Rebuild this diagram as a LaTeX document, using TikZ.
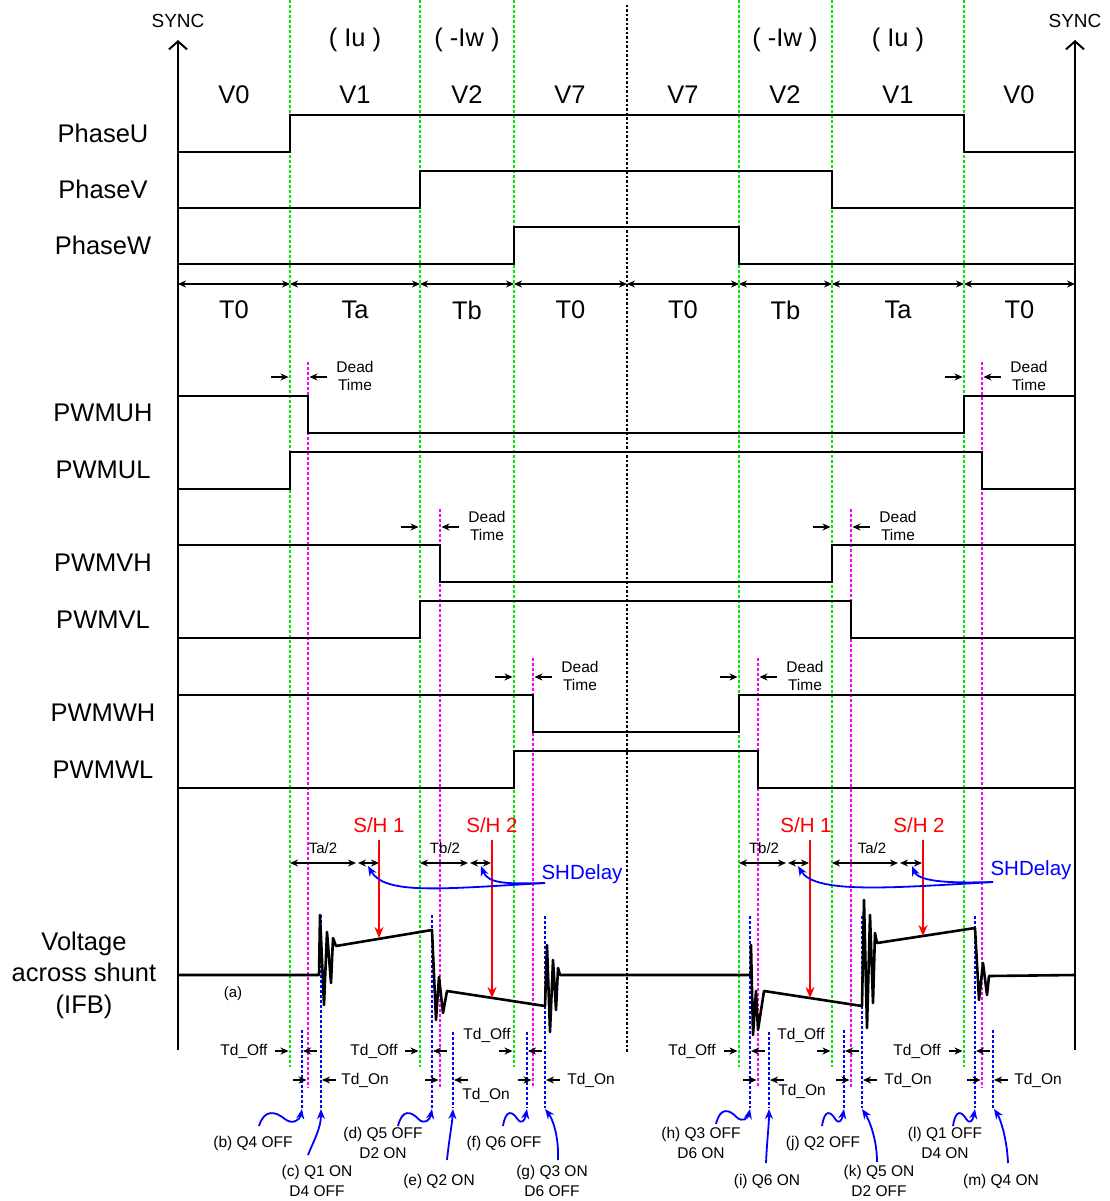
\documentclass[tikz,border=0pt]{standalone}
\usepackage{fontspec}
\setmainfont{Liberation Sans}
\usetikzlibrary{arrows.meta}
\definecolor{grn}{RGB}{0,235,0}
\definecolor{mag}{RGB}{255,0,255}
\definecolor{blu}{RGB}{0,0,255}
\definecolor{rd}{RGB}{255,0,0}
\newcommand{\wavyarr}[3]{%
  \draw[barr] (#1,#2) .. controls ({#1+0.12*(#3-#1)},{#2-17}) and ({#1+0.38*(#3-#1)},{#2-15}) .. ({#1+0.6*(#3-#1)},{#2-7}) .. controls ({#1+0.78*(#3-#1)},{#2-1}) and ({#3-2},{#2-6}) .. (#3,1109);}
\begin{document}
\begin{tikzpicture}[x=1pt,y=-1pt,
  wave/.style={line width=1.5pt},
  shunt/.style={line width=2.6pt, line join=round},
  axis/.style={line width=2pt, -{Straight Barb[length=8pt,width=18pt]}},
  gline/.style={grn, line width=1.3pt, dash pattern=on 3pt off 2pt},
  mline/.style={mag, line width=1.3pt, dash pattern=on 3pt off 2pt},
  bline/.style={blu, line width=1.5pt, dash pattern=on 3pt off 2pt},
  kline/.style={black, line width=1.3pt, dash pattern=on 2.5pt off 2pt},
  tarr/.style={line width=1.3pt, -{Stealth[length=8pt,width=7pt]}},
  dbl/.style={line width=1.3pt, {Stealth[length=8pt,width=7pt]}-{Stealth[length=8pt,width=7pt]}},
  rarr/.style={rd, line width=2pt, -{Stealth[length=11pt,width=9pt]}},
  barr/.style={blu, line width=1.8pt, -{Stealth[length=10pt,width=8pt]}},
  big/.style={font=\fontsize{25.5}{30}\selectfont, inner sep=0pt},
  syncf/.style={font=\fontsize{19}{22}\selectfont, inner sep=0pt},
  shf/.style={font=\fontsize{20.5}{24}\selectfont, inner sep=0pt},
  dtf/.style={font=\fontsize{15.5}{18.5}\selectfont, inner sep=0pt, align=center},
  tdf/.style={font=\fontsize{15.5}{18.5}\selectfont, inner sep=0pt},
  evf/.style={font=\fontsize{15.5}{20}\selectfont, inner sep=0pt, align=center},
  halff/.style={font=\fontsize{15}{18}\selectfont, inner sep=0pt}
]
\useasboundingbox (0,0) rectangle (1110,1201);

% vertical reference lines
\foreach \x in {290,420,514,739,832,964} \draw[gline] (\x,0) -- (\x,1067);
\foreach \x/\y in {308/362,982/362,440/509,851/509,533/658,758/658} \draw[mline] (\x,\y) -- (\x,1088);
\foreach \x/\y in {302/1030,321/915,432/915,453/1032,527/1032,545/916,750/916,769/1032,844/1030,862/916,975/916,993/1030} \draw[bline] (\x,\y) -- (\x,1108);
\draw[kline] (627,5) -- (627,1052);

% axes
\coordinate (axLb) at (178,1050); \coordinate (axLt) at (178,40);
\coordinate (axRb) at (1075,1050); \coordinate (axRt) at (1075,40);
\draw[axis] (axLb) -- (axLt);
\draw[axis] (axRb) -- (axRt);
\node[syncf] (syncL) at (178,21) {SYNC};
\node[syncf] (syncR) at (1075,21) {SYNC};

% top labels
\foreach \x/\t [count=\i] in {234/V0,355/V1,467/V2,570/V7,683/V7,785/V2,898/V1,1019/V0}
  \node[big] (v\i) at (\x,95) {\t};
\node[big] (cur1) at (355,40) {( Iu )};
\node[big] (cur2) at (467,40) {( -Iw )};
\node[big] (cur3) at (785,40) {( -Iw )};
\node[big] (cur4) at (898,40) {( Iu )};

% phase waveforms
\draw[wave] (178,152) -- (290,152) -- (290,115) -- (964,115) -- (964,152) -- (1075,152);
\draw[wave] (178,208) -- (420,208) -- (420,171) -- (832,171) -- (832,208) -- (1075,208);
\draw[wave] (178,264) -- (514,264) -- (514,227) -- (739,227) -- (739,264) -- (1075,264);
\node[big] (pu) at (103,133) {PhaseU};
\node[big] (pv) at (103,189) {PhaseV};
\node[big] (pw) at (103,245) {PhaseW};

% interval arrows
\foreach \a/\b/\t [count=\i] in {178/290/T0,290/420/Ta,420/514/Tb,514/627/T0,627/739/T0,739/832/Tb,832/964/Ta,964/1075/T0}{
  \draw[dbl] (\a,284) -- (\b,284);
  \node[big] (t\i) at ({(\a+\b)/2},310) {\t};
}

% PWM waveforms
\draw[wave] (178,396) -- (308,396) -- (308,433) -- (964,433) -- (964,396) -- (1075,396);
\draw[wave] (178,489) -- (290,489) -- (290,452) -- (982,452) -- (982,489) -- (1075,489);
\draw[wave] (178,545) -- (440,545) -- (440,582) -- (832,582) -- (832,545) -- (1075,545);
\draw[wave] (178,638) -- (420,638) -- (420,601) -- (851,601) -- (851,638) -- (1075,638);
\draw[wave] (178,695) -- (533,695) -- (533,732) -- (739,732) -- (739,695) -- (1075,695);
\draw[wave] (178,788) -- (514,788) -- (514,751) -- (758,751) -- (758,788) -- (1075,788);
\node[big] (uh) at (103,413) {PWMUH};
\node[big] (ul) at (103,470) {PWMUL};
\node[big] (vh) at (103,563) {PWMVH};
\node[big] (vl) at (103,620) {PWMVL};
\node[big] (wh) at (103,713) {PWMWH};
\node[big] (wl) at (103,770) {PWMWL};

% dead time markers
\foreach \g/\m/\y [count=\i] in {290/308/377,964/982/377,420/440/527,832/851/527,514/533/677,739/758/677}{
  \draw[tarr] ({\g-19},\y) -- ({\g-1.5},\y);
  \draw[tarr] ({\m+19},\y) -- ({\m+1.5},\y);
  \node[dtf] (dt\i) at ({\m+47},{\y-1}) {Dead\\Time};
}

% shunt voltage
\draw[shunt] (178,975) -- (319,975) -- (320,915) -- (324,1005) -- (327,932) -- (331,983) -- (333,938) -- (336,946)
  -- (432,930) -- (436,1020) -- (439,977) -- (443,1013) -- (447,991)
  -- (545,1006) -- (547,945) -- (550,1032) -- (553,960) -- (556,1010) -- (558,968) -- (560,975)
  -- (751,975) -- (751,945) -- (753,1035) -- (756,991) -- (758,1030) -- (764,991)
  -- (862,1006) -- (864,900) -- (867,1028) -- (870,915) -- (873,1003) -- (875,933) -- (877,943)
  -- (975,928) -- (979,1000) -- (983,963) -- (987,995) -- (989,976) -- (1075,975);
\node[big, align=center, font=\fontsize{25.5}{31.5}\selectfont] (vs) at (84,975) {Voltage\\across shunt\\(IFB)};
\node[halff] (ea) at (233,994) {(a)};

% sample/hold timing
\draw[dbl] (290,863) -- (356,863);  \draw[dbl] (358,863) -- (379,863);
\draw[dbl] (420,863) -- (468,863);  \draw[dbl] (470,863) -- (491,863);
\draw[dbl] (739,863) -- (786,863);  \draw[dbl] (788,863) -- (809,863);
\draw[dbl] (832,863) -- (898,863);  \draw[dbl] (900,863) -- (922,863);
\node[halff] (ta1) at (323,848) {Ta/2};
\node[halff] (tb1) at (445,848) {Tb/2};
\node[halff] (tb2) at (764,848) {Tb/2};
\node[halff] (ta2) at (872,848) {Ta/2};

\node[shf, rd] (sh1) at (379,825) {S/H 1};
\node[shf, rd] (sh2) at (492,825) {S/H 2};
\node[shf, rd] (sh3) at (806,825) {S/H 1};
\node[shf, rd] (sh4) at (919,825) {S/H 2};
\draw[rarr] (379,840) -- (379,938);
\draw[rarr] (492,840) -- (492,998);
\draw[rarr] (810,840) -- (810,998);
\draw[rarr] (923,840) -- (923,936);

\node[shf, blu] (shd1) at (582,874) {SHDelay};
\node[shf, blu] (shd2) at (1031,870) {SHDelay};
\draw[barr] (545,883) .. controls (440,889) and (385,895) .. (368,866);
\draw[barr] (545,883) .. controls (508,884) and (488,884) .. (481,866);
\draw[barr] (993,882) .. controls (890,888) and (815,894) .. (798,866);
\draw[barr] (993,882) .. controls (958,883) and (919,883) .. (912,866);

% switching delay markers
\foreach \g/\m/\p/\q/\ox/\oy/\nx/\ny [count=\i] in {
  290/308/302/321/244/1051/365/1080,
  420/440/432/453/374/1051/486/1095,
  514/533/527/545/487/1035/591/1080,
  739/758/750/769/692/1051/802/1091,
  832/851/844/862/801/1035/908/1080,
  964/982/975/993/917/1051/1038/1080}{
  \draw[tarr] ({\g-15},1051) -- ({\g-1.5},1051);
  \draw[tarr] ({\p+15},1051) -- ({\p+1},1051);
  \draw[tarr] ({\m-15},1080) -- ({\m-1.5},1080);
  \draw[tarr] ({\q+15},1080) -- ({\q+1},1080);
  \node[tdf] (toff\i) at (\ox,\oy) {Td\_Off};
  \node[tdf] (ton\i) at (\nx,\ny) {Td\_On};
}

% event labels
\node[evf] (eb) at (253,1143) {(b) Q4 OFF};
\node[evf] (ec) at (317,1181) {(c) Q1 ON\\D4 OFF};
\node[evf] (ed) at (383,1143) {(d) Q5 OFF\\D2 ON};
\node[evf] (ee) at (439,1181) {(e) Q2 ON};
\node[evf] (ef) at (504,1143) {(f) Q6 OFF};
\node[evf] (eg) at (552,1181) {(g) Q3 ON\\D6 OFF};
\node[evf] (eh) at (701,1143) {(h) Q3 OFF\\D6 ON};
\node[evf] (ei) at (767,1181) {(i) Q6 ON};
\node[evf] (ej) at (823,1143) {(j) Q2 OFF};
\node[evf] (ek) at (879,1181) {(k) Q5 ON\\D2 OFF};
\node[evf] (el) at (945,1143) {(l) Q1 OFF\\D4 ON};
\node[evf] (em) at (1001,1181) {(m) Q4 ON};

% event arrows
\wavyarr{259}{1126}{302}
\wavyarr{398}{1126}{432}
\wavyarr{503}{1126}{527}
\wavyarr{716}{1124}{750}
\wavyarr{822}{1126}{844}
\wavyarr{953}{1126}{975}
\draw[barr] (308,1155) .. controls (314,1140) and (321,1128) .. (321,1109);
\draw[barr] (447,1160) .. controls (449,1140) and (452,1125) .. (453,1109);
\draw[barr] (558,1160) .. controls (559,1135) and (552,1118) .. (545,1109);
\draw[barr] (766,1163) .. controls (767,1140) and (769,1125) .. (769,1109);
\draw[barr] (877,1162) .. controls (877,1137) and (868,1118) .. (862,1109);
\draw[barr] (1008,1163) .. controls (1007,1138) and (1000,1118) .. (994,1109);
\end{tikzpicture}
\end{document}
